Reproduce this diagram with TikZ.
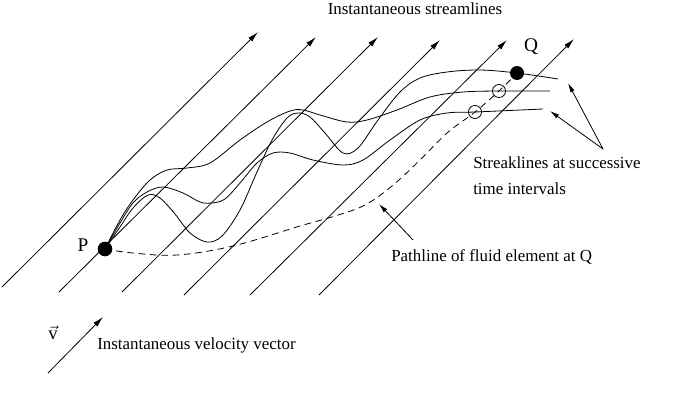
\documentclass[tikz,border=0pt]{standalone}
\usepackage{fontspec}
\setmainfont{Liberation Serif}
\usetikzlibrary{arrows.meta}
\begin{document}
\begin{tikzpicture}[x=0.75pt,y=-0.75pt,
  every node/.style={font=\fontsize{12.7}{15}\selectfont, inner sep=0pt},
  sline/.style={line width=0.6pt,-{Latex[length=8pt,width=4pt]}},
  curve/.style={line width=0.6pt},
  pathl/.style={line width=0.6pt,dash pattern=on 5pt off 3.5pt},
  lbl/.style={anchor=west},
  ptr/.style={line width=0.6pt,-{Latex[length=7pt,width=3.5pt]}},
  dot/.style={circle,fill=black,minimum size=11pt},
  ring/.style={circle,draw,line width=0.6pt,minimum size=9.8pt},
  big/.style={font=\fontsize{14.5}{16}\selectfont}]
\useasboundingbox (0,0) rectangle (685,393);
% streamlines
\coordinate (s1a) at (2,287);   \coordinate (s1b) at (258,32);
\coordinate (s2a) at (59,292);  \coordinate (s2b) at (316,37);
\coordinate (s3a) at (122,292); \coordinate (s3b) at (378,37);
\coordinate (s4a) at (184,295); \coordinate (s4b) at (440,40);
\coordinate (s5a) at (250,295); \coordinate (s5b) at (507,40);
\coordinate (s6a) at (319,295); \coordinate (s6b) at (574,39);
\foreach \i in {1,...,6} \draw[sline] (s\i a) -- (s\i b);
% points
\coordinate (Pc) at (105,249);
\coordinate (Qc) at (517,73);
\coordinate (eT) at (558,79);
\coordinate (eM) at (550,91);
\coordinate (eB) at (543,109);
% streaklines
\draw[curve] plot[smooth,tension=0.55] coordinates {(Pc) (120,227) (133,208) (148,195) (160,198) (175,214) (190,233) (207,242) (222,236) (240,210) (257,172) (272,140) (287,118) (298,113) (310,117) (325,133) (343,153) (358,148) (378,120) (400,92) (420,78) (447,72) (480,70) (Qc) (eT)};
\draw[curve] plot[smooth,tension=0.55] coordinates {(Pc) (120,220) (133,200) (150,180) (167,170) (187,168) (210,163) (240,140) (267,122) (290,111) (303,110) (320,115) (347,122) (367,120) (397,110) (430,97) (463,92) (499,91) (eM)};
\draw[curve] plot[smooth,tension=0.55] coordinates {(Pc) (120,223) (133,203) (147,192) (163,187) (183,193) (200,202) (212,203) (225,199) (240,183) (257,163) (273,153) (290,153) (313,160) (343,165) (363,160) (390,140) (420,120) (447,113) (475,112) (eB)};
% pathline
\draw[pathl] plot[smooth,tension=0.6] coordinates {(Pc) (133,253) (177,255) (233,246) (300,226) (335,216) (365,205) (392,186) (420,160) (447,133) (475,112) (499,91) (Qc)};
% dots
\node[dot] (P) at (Pc) {};
\node[dot,minimum size=10.5pt] (Q) at (Qc) {};
\node[ring] (r1) at (475,112) {};
\node[ring] (r2) at (499,91) {};
\node[big] (Plbl) at (83,245) {P};
\node[big] (Qlbl) at (531,47) {Q};
% labels
\node (tstream) at (415,9) {Instantaneous streamlines};
\node[lbl] (tstreak1) at (473,163) {Streaklines at successive};
\node[lbl] (tstreak2) at (473,189) {time intervals};
\node[lbl] (tpath) at (391,257) {Pathline of fluid element at Q};
\node[lbl] (tvel) at (97,345) {Instantaneous velocity vector};
% pointers
\coordinate (k1) at (603,149);
\coordinate (k1t) at (568,83);
\coordinate (k2t) at (550,111);
\draw[ptr] (k1) -- (k1t);
\draw[ptr] (k1) -- (k2t);
\coordinate (k3) at (413,240);
\coordinate (k3t) at (379,204);
\draw[ptr] (k3) -- (k3t);
% velocity vector
\coordinate (va) at (48,373);
\coordinate (vb) at (103,317);
\draw[sline] (va) -- (vb);
\node (vlbl) at (53,333) {\fontsize{14}{16}\selectfont$\vec{\mbox{v}}$};
\end{tikzpicture}
\end{document}
